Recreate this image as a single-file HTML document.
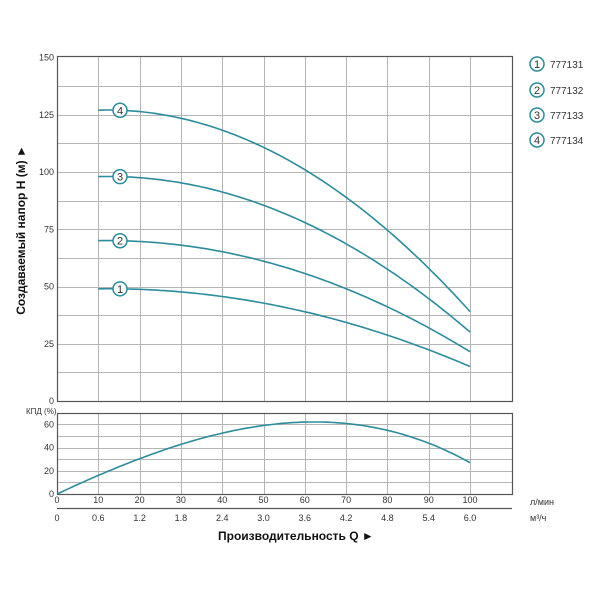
<!DOCTYPE html>
<html><head><meta charset="utf-8"><style>
body{margin:0;background:#fff;}
svg text{font-family:"Liberation Sans",sans-serif;fill:#333;}
</style></head><body>
<svg id="s" width="600" height="600" xmlns="http://www.w3.org/2000/svg">
<g id="grid" stroke="#b5b5b5" stroke-width="1"></g>
<rect x="57.5" y="56.5" width="455" height="345" fill="none" stroke="#555" stroke-width="1.2"/>
<rect x="57.5" y="413.5" width="455" height="81" fill="none" stroke="#555" stroke-width="1.2"/>
<line x1="57" y1="508.5" x2="512" y2="508.5" stroke="#555" stroke-width="1.2"/>
<g id="curves" fill="none" stroke="#2b8d9c" stroke-width="1.6"></g>
<g id="labels" font-size="9"></g>
<g id="marks"></g>
<text x="530" y="505" font-size="9">л/мин</text>
<text x="530" y="521" font-size="9">м³/ч</text>
<text x="26" y="414" font-size="8">КПД (%)</text>
<text x="218" y="540" font-size="12" font-weight="bold" style="fill:#111">Производительность Q ►</text>
<text transform="translate(25,230) rotate(-90)" text-anchor="middle" font-size="12" font-weight="bold" style="fill:#111">Создаваемый напор Н (м) ►</text>
</svg>
<script>
var NS="http://www.w3.org/2000/svg";
function el(p,t,a,txt){var e=document.createElementNS(NS,t);for(var k in a)e.setAttribute(k,a[k]);if(txt!==undefined)e.textContent=txt;document.getElementById(p).appendChild(e);return e;}
function X(q){return 57+q*4.13;}
function YH(h){return 401-h*2.29;}
function YE(e){return 494-e*1.16;}
// grid
for(var q=10;q<=100;q+=10){var x=Math.round(X(q))+0.5;el("grid","line",{x1:x,y1:56,x2:x,y2:401});el("grid","line",{x1:x,y1:413,x2:x,y2:494});}
for(var h=12.5;h<150;h+=12.5){var y=Math.round(YH(h))+0.5;el("grid","line",{x1:57,y1:y,x2:512,y2:y});}
for(var e=10;e<70;e+=10){var y=Math.round(YE(e))+0.5;el("grid","line",{x1:57,y1:y,x2:512,y2:y});}
// labels
for(var h=0;h<=150;h+=25)el("labels","text",{x:54,y:YH(h)+3,"text-anchor":"end"},h);
for(var e=0;e<=60;e+=20)el("labels","text",{x:54,y:YE(e)+3,"text-anchor":"end"},e);
for(var q=0;q<=100;q+=10){el("labels","text",{x:X(q),y:503,"text-anchor":"middle"},q);el("labels","text",{x:X(q),y:521,"text-anchor":"middle"},(q*0.06).toFixed(1).replace("0.0","0"));}
// curves
var c1=0.281,c2=-0.01144;
function f(q){return (127+c1*(q-10)+c2*(q*q-100))/127;}
var H0=[49,70,98,127];
H0.forEach(function(h0,i){var d="";for(var q=10;q<=100;q+=1){d+=(q==10?"M":"L")+X(q).toFixed(1)+","+YH(h0*f(q)).toFixed(1);}el("curves","path",{d:d});
 var cx=120,cy=YH(h0*f(15.2));el("marks","circle",{cx:cx,cy:cy,r:7,fill:"#fff",stroke:"#2b8d9c","stroke-width":1.5});el("marks","text",{x:cx,y:cy+4,"text-anchor":"middle","font-size":11},i+1);
 var ly=[64,90,115,140][i];el("marks","circle",{cx:537,cy:ly,r:7,fill:"#fff",stroke:"#2b8d9c","stroke-width":1.5});el("marks","text",{x:537,y:ly+4,"text-anchor":"middle","font-size":11},i+1);el("marks","text",{x:550,y:ly+4,"font-size":10},"77713"+(i+1));
});
var d="";for(var q=0;q<=100;q+=1){var e=1.6617*q-0.005306*q*q-0.0000861*q*q*q;d+=(q==0?"M":"L")+X(q).toFixed(1)+","+YE(e).toFixed(1);}el("curves","path",{d:d});
</script>
</body></html>
